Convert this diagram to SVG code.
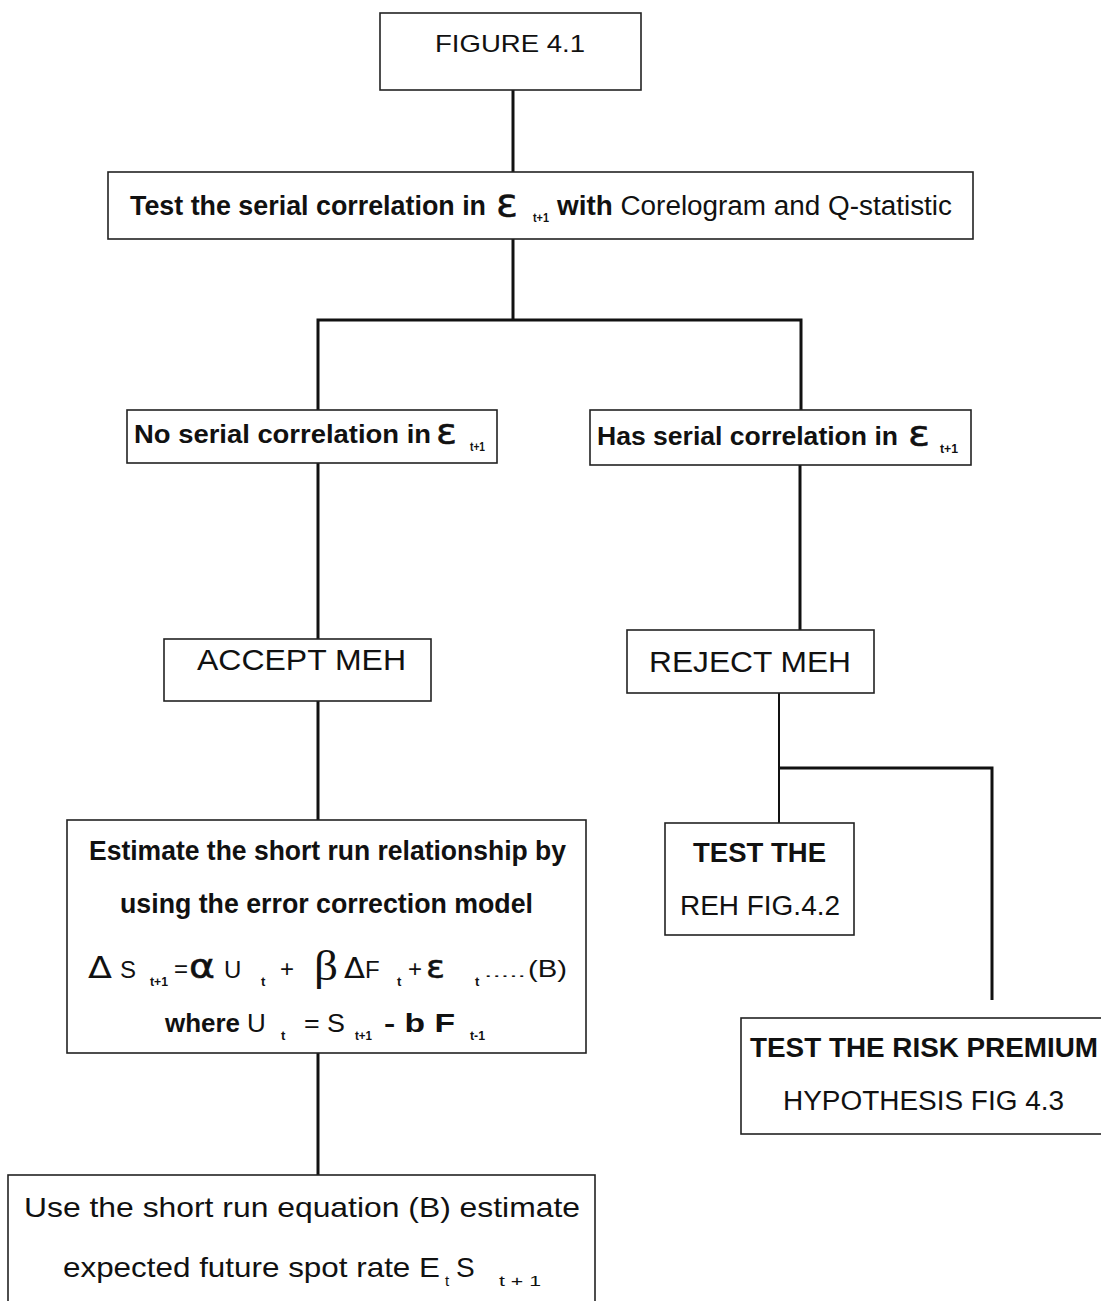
<svg xmlns="http://www.w3.org/2000/svg" width="1101" height="1301" viewBox="0 0 1101 1301">
<style>
.box{fill:#fff;stroke:#222;stroke-width:1.6}
.con{fill:none;stroke:#111;stroke-width:3}
.thin{fill:none;stroke:#111;stroke-width:2}
.t{font-family:"Liberation Sans Narrow","Liberation Sans",Arial,sans-serif;fill:#111}
.b{font-weight:bold}
.r{font-family:"Liberation Sans",Arial,sans-serif;fill:#111}
.gk{font-family:"DejaVu Sans","Liberation Sans",sans-serif;fill:#111;stroke:#111;stroke-width:0.5}
.gd{font-family:"DejaVu Sans","Liberation Sans",sans-serif;fill:#111}
.g{font-family:"Liberation Serif","DejaVu Serif",serif;fill:#111}
.sub{font-family:"Liberation Sans",Arial,sans-serif;fill:#111;font-size:13px;font-weight:bold}
</style>
<rect width="1101" height="1301" fill="#fff"/>
<g id="connectors">
<path class="con" d="M513,90V172"/>
<path class="con" d="M513,239V320"/>
<path class="con" d="M318,410V320H801V410"/>
<path class="con" d="M318,463V639"/>
<path class="con" d="M800,465V630"/>
<path class="con" d="M318,701V820"/>
<path class="thin" d="M779,693V823"/>
<path class="con" d="M779,768H992V1000"/>
<path class="con" d="M318,1053V1175"/>
</g>
<g id="n-figure">
<rect class="box" x="380" y="13" width="261" height="77"/>
<text class="r" x="435" y="52" font-size="24" textLength="150" lengthAdjust="spacingAndGlyphs">FIGURE 4.1</text>
</g>
<g id="n-test">
<rect class="box" x="108" y="172" width="865" height="67"/>
<text class="t b" x="130" y="215" font-size="27" textLength="356" lengthAdjust="spacingAndGlyphs">Test the serial correlation in</text>
<text class="gk" x="496" y="216" font-size="38" textLength="22" lengthAdjust="spacingAndGlyphs">ε</text>
<text class="sub" x="533" y="222" textLength="16" lengthAdjust="spacingAndGlyphs">t+1</text>
<text class="t" x="557" y="215" font-size="27" textLength="395" lengthAdjust="spacingAndGlyphs"><tspan font-weight="bold">with</tspan> Corelogram and Q-statistic</text>
</g>
<g id="n-no">
<rect class="box" x="127" y="410" width="370" height="53"/>
<text class="t b" x="134" y="443" font-size="25" textLength="297" lengthAdjust="spacingAndGlyphs">No serial correlation in</text>
<text class="gk" x="436" y="444" font-size="36" textLength="21" lengthAdjust="spacingAndGlyphs">ε</text>
<text class="sub" x="470" y="451" textLength="15" lengthAdjust="spacingAndGlyphs">t+1</text>
</g>
<g id="n-has">
<rect class="box" x="590" y="410" width="381" height="55"/>
<text class="t b" x="597" y="445" font-size="25" textLength="301" lengthAdjust="spacingAndGlyphs">Has serial correlation in</text>
<text class="gk" x="908" y="446" font-size="36" textLength="22" lengthAdjust="spacingAndGlyphs">ε</text>
<text class="sub" x="940" y="453" textLength="18" lengthAdjust="spacingAndGlyphs">t+1</text>
</g>
<g id="n-accept">
<rect class="box" x="164" y="639" width="267" height="62"/>
<text class="r" x="197" y="670" font-size="29" textLength="209" lengthAdjust="spacingAndGlyphs">ACCEPT MEH</text>
</g>
<g id="n-reject">
<rect class="box" x="627" y="630" width="247" height="63"/>
<text class="r" x="649" y="672" font-size="29" textLength="202" lengthAdjust="spacingAndGlyphs">REJECT MEH</text>
</g>
<g id="n-estimate">
<rect class="box" x="67" y="820" width="519" height="233"/>
<text class="t b" x="89" y="860" font-size="27" textLength="477" lengthAdjust="spacingAndGlyphs">Estimate the short run relationship by</text>
<text class="t b" x="120" y="913" font-size="27" textLength="413" lengthAdjust="spacingAndGlyphs">using the error correction model</text>
<text class="gd" x="88" y="978" font-size="31" textLength="24" lengthAdjust="spacingAndGlyphs">Δ</text>
<text class="r" x="120" y="978" font-size="24">S</text>
<text class="sub" x="150" y="986" textLength="18" lengthAdjust="spacingAndGlyphs">t+1</text>
<text class="r" x="174" y="977" font-size="24">=</text>
<text class="gk" x="189" y="978" font-size="34" textLength="26" lengthAdjust="spacingAndGlyphs">α</text>
<text class="r" x="224" y="978" font-size="24">U</text>
<text class="sub" x="261" y="986">t</text>
<text class="r" x="280" y="977" font-size="24">+</text>
<text class="g" x="314" y="980" font-size="42" textLength="24" lengthAdjust="spacingAndGlyphs">β</text>
<text class="gd" x="344" y="978" font-size="28" textLength="21" lengthAdjust="spacingAndGlyphs">Δ</text>
<text class="r" x="365" y="978" font-size="24">F</text>
<text class="sub" x="397" y="986">t</text>
<text class="r" x="408" y="977" font-size="24">+</text>
<text class="gk" x="426" y="978" font-size="32" textLength="19" lengthAdjust="spacingAndGlyphs">ε</text>
<text class="sub" x="475" y="986">t</text>
<text class="r" x="484" y="977" font-size="14" textLength="42" lengthAdjust="spacingAndGlyphs">.....</text>
<text class="r" x="528" y="977" font-size="24" textLength="39" lengthAdjust="spacingAndGlyphs">(B)</text>
<text class="t b" x="165" y="1032" font-size="26" textLength="75" lengthAdjust="spacingAndGlyphs">where</text>
<text class="r" x="247" y="1032" font-size="26">U</text>
<text class="sub" x="281" y="1040">t</text>
<text class="r" x="304" y="1032" font-size="26" textLength="41" lengthAdjust="spacingAndGlyphs">= S</text>
<text class="sub" x="355" y="1040" textLength="17" lengthAdjust="spacingAndGlyphs">t+1</text>
<text class="t b" x="384" y="1032" font-size="26" textLength="71" lengthAdjust="spacingAndGlyphs">- b F</text>
<text class="sub" x="470" y="1040" textLength="15" lengthAdjust="spacingAndGlyphs">t-1</text>
</g>
<g id="n-reh">
<rect class="box" x="665" y="823" width="189" height="112"/>
<text class="t b" x="693" y="862" font-size="27" textLength="133" lengthAdjust="spacingAndGlyphs">TEST THE</text>
<text class="t" x="680" y="915" font-size="27" textLength="160" lengthAdjust="spacingAndGlyphs">REH FIG.4.2</text>
</g>
<g id="n-risk">
<rect class="box" x="741" y="1018" width="370" height="116"/>
<text class="t b" x="750" y="1057" font-size="27" textLength="348" lengthAdjust="spacingAndGlyphs">TEST THE RISK PREMIUM</text>
<text class="t" x="783" y="1110" font-size="27" textLength="281" lengthAdjust="spacingAndGlyphs">HYPOTHESIS FIG 4.3</text>
</g>
<g id="n-use">
<rect class="box" x="8" y="1175" width="587" height="140"/>
<text class="r" x="24" y="1217" font-size="28" textLength="556" lengthAdjust="spacingAndGlyphs">Use the short run equation (B) estimate</text>
<text class="r" x="63" y="1277" font-size="28" textLength="377" lengthAdjust="spacingAndGlyphs">expected future spot rate E</text>
<text class="r" x="445" y="1286" font-size="15">t</text>
<text class="r" x="456" y="1277" font-size="28">S</text>
<text class="r" x="499" y="1286" font-size="15" textLength="42" lengthAdjust="spacingAndGlyphs">t + 1</text>
</g>
</svg>
